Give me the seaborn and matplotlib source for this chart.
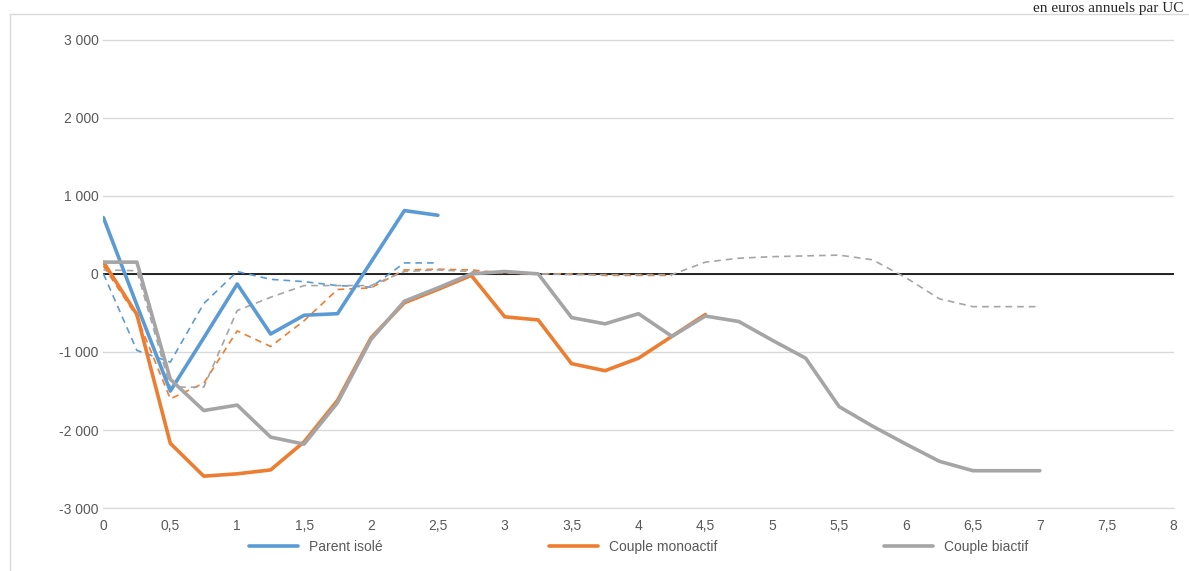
import matplotlib
matplotlib.use("Agg")
import matplotlib.pyplot as plt
import seaborn as sns
import numpy as np
import pandas as pd

sns.set_style("white")
plt.rcParams['font.family'] = ['Liberation Sans', 'DejaVu Sans']

blue_solid = [720, -400, -1500, -820, -130, -770, -530, -510, 150, 810, 750]
orange_solid = [150, -520, -2170, -2590, -2560, -2510, -2150, -1620, -820, -370, -200, -20,
                -550, -590, -1150, -1240, -1080, -800, -520]
gray_solid = [150, 150, -1350, -1750, -1680, -2090, -2180, -1650, -840, -350, -180, 0, 30, 0,
              -560, -640, -510, -800, -540, -610, -850, -1080, -1700, -1950, -2180, -2400,
              -2520, -2520, -2520]
blue_dash = [0, -980, -1130, -380, 30, -70, -100, -150, -170, 140, 140]
orange_dash = [100, -550, -1600, -1400, -730, -930, -600, -200, -180, 50, 60, 50, 10, 0, 0,
               -20, -20, -20]
gray_dash = [50, 40, -1450, -1450, -470, -300, -150, -150, -150, 30, 50, 30, 20, 0, -10, -10,
             -10, -10, 150, 200, 220, 230, 240, 180, -50, -320, -420, -420, -420]

BLUE, ORANGE, GRAY = "#5B9BD5", "#ED7D31", "#A5A5A5"

def xs(v):
    return np.arange(len(v)) * 0.25

fig = plt.figure(figsize=(11.89, 5.71), dpi=100)
ax = fig.add_axes([0.087, 0.11, 0.90, 0.855])

for v, c in [(blue_dash, BLUE), (orange_dash, ORANGE), (gray_dash, GRAY)]:
    sns.lineplot(x=xs(v), y=v, ax=ax, color=c, lw=1.2, linestyle=(0, (4, 3)))
for v, c, lab in [(blue_solid, BLUE, "Parent isolé"), (orange_solid, ORANGE, "Couple monoactif"),
                  (gray_solid, GRAY, "Couple biactif")]:
    sns.lineplot(x=xs(v), y=v, ax=ax, color=c, lw=2.6, label=lab)

ax.axhline(0, color="black", lw=1.2, zorder=1)
ax.set_xlim(0, 8)
ax.set_ylim(-3000, 3250)
ax.set_yticks(range(-3000, 3001, 1000))
ax.set_yticklabels([f"{t:,}".replace(",", " ") for t in range(-3000, 3001, 1000)])
ax.set_xticks(np.arange(0, 8.01, 0.5))
ax.set_xticklabels([("%g" % t).replace(".", ",") for t in np.arange(0, 8.01, 0.5)])
ax.yaxis.grid(True, color="#D9D9D9", lw=1)
for s in ["top", "right", "left"]:
    ax.spines[s].set_visible(False)
ax.spines["bottom"].set_color("#D9D9D9")
ax.tick_params(axis="both", labelsize=10, colors="#595959", length=0)
ax.tick_params(axis="x", length=4, color="#D9D9D9", direction="out")
ax.legend(loc="upper center", bbox_to_anchor=(0.5, -0.04), ncol=3, frameon=False,
          fontsize=10, columnspacing=12, handlelength=3.5, labelcolor="#595959")
fig.add_artist(plt.Line2D([0.008, 0.008], [0, 0.975], color="#D9D9D9", lw=1))
fig.add_artist(plt.Line2D([0.008, 1], [0.975, 0.975], color="#D9D9D9", lw=1))
fig.text(0.995, 0.997, "en euros annuels par UC", ha="right", va="top", fontsize=11,
         family="Liberation Serif")
fig.savefig("out.png")
